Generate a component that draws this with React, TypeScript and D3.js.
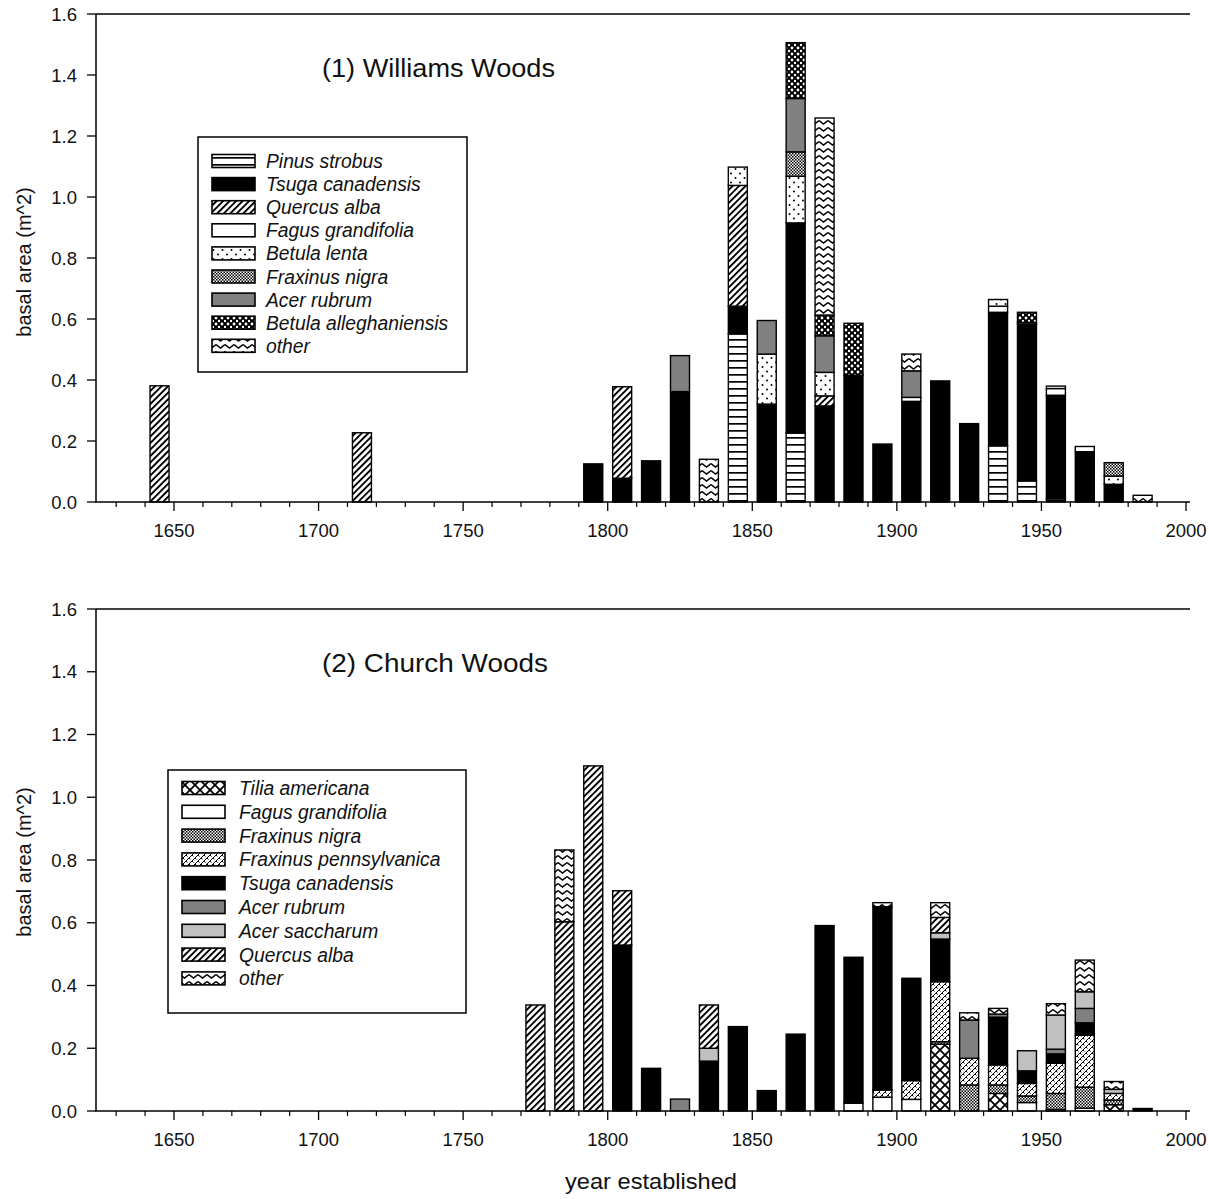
import React from "react";
import * as d3 from "d3";

// ---------- DATA ----------
const yearsWilliams = [1645, 1715, 1795, 1805, 1815, 1825, 1835, 1845, 1855, 1865, 1875, 1885, 1895, 1905, 1915, 1925, 1935, 1945, 1955, 1965, 1975, 1985];
const wPinus =      [0, 0, 0, 0, 0, 0, 0, 0.551, 0, 0.226, 0, 0, 0, 0, 0, 0, 0.184, 0.069, 0.01, 0, 0, 0];
const wTsuga =      [0, 0, 0.125, 0.078, 0.135, 0.362, 0, 0.091, 0.321, 0.689, 0.315, 0.416, 0.19, 0.33, 0.397, 0.257, 0.438, 0.515, 0.34, 0.165, 0.058, 0];
const wQuercus =    [0.381, 0.227, 0, 0.30, 0, 0, 0, 0.396, 0, 0, 0.033, 0, 0, 0, 0, 0, 0, 0, 0, 0, 0, 0];
const wFagus =      [0, 0, 0, 0, 0, 0, 0, 0, 0, 0, 0, 0, 0, 0.013, 0, 0, 0.02, 0.005, 0.022, 0.017, 0, 0];
const wBetLenta =   [0, 0, 0, 0, 0, 0, 0, 0.06, 0.164, 0.153, 0.077, 0, 0, 0, 0, 0, 0.022, 0, 0.008, 0, 0.027, 0];
const wFraxNigra =  [0, 0, 0, 0, 0, 0, 0, 0, 0, 0.08, 0, 0, 0, 0, 0, 0, 0, 0, 0, 0, 0.044, 0];
const wAcerRubrum = [0, 0, 0, 0, 0, 0.118, 0, 0, 0.11, 0.175, 0.12, 0, 0, 0.087, 0, 0, 0, 0, 0, 0, 0, 0];
const wBetAlleg =   [0, 0, 0, 0, 0, 0, 0, 0, 0, 0.183, 0.068, 0.17, 0, 0, 0, 0, 0, 0.033, 0, 0, 0, 0];
const wOther =      [0, 0, 0, 0, 0, 0, 0.14, 0, 0, 0, 0.646, 0, 0, 0.055, 0, 0, 0, 0, 0, 0, 0, 0.022];

const yearsChurch = [1775, 1785, 1795, 1805, 1815, 1825, 1835, 1845, 1855, 1865, 1875, 1885, 1895, 1905, 1915, 1925, 1935, 1945, 1955, 1965, 1975, 1985];
const cTilia =      [0, 0, 0, 0, 0, 0, 0, 0, 0, 0, 0, 0, 0, 0, 0.213, 0, 0.056, 0, 0, 0, 0.02, 0];
const cFagus =      [0, 0, 0, 0, 0, 0, 0, 0, 0, 0, 0, 0.025, 0.044, 0.037, 0, 0, 0, 0.027, 0.005, 0.009, 0, 0];
const cFraxNigra =  [0, 0, 0, 0, 0, 0, 0, 0, 0, 0, 0, 0, 0, 0, 0.008, 0.083, 0.027, 0.021, 0.051, 0.067, 0.015, 0];
const cFraxPenn =   [0, 0, 0, 0, 0, 0, 0, 0, 0, 0, 0, 0, 0.023, 0.06, 0.191, 0.085, 0.064, 0.04, 0.096, 0.166, 0.021, 0];
const cTsuga =      [0, 0, 0, 0.529, 0.136, 0, 0.159, 0.269, 0.065, 0.245, 0.591, 0.465, 0.584, 0.326, 0.136, 0, 0.152, 0.04, 0.03, 0.039, 0, 0.008];
const cAcerRubrum = [0, 0, 0, 0, 0, 0.038, 0, 0, 0, 0, 0, 0, 0, 0, 0, 0.122, 0.01, 0, 0.015, 0.046, 0, 0];
const cAcerSacch =  [0, 0, 0, 0, 0, 0, 0.041, 0, 0, 0, 0, 0, 0, 0, 0.02, 0, 0, 0.064, 0.109, 0.053, 0.013, 0];
const cQuercus =    [0.338, 0.603, 1.10, 0.173, 0, 0, 0.138, 0, 0, 0, 0, 0, 0, 0, 0.049, 0, 0, 0, 0, 0, 0, 0];
const cOther =      [0, 0.229, 0, 0, 0, 0, 0, 0, 0, 0, 0, 0, 0.013, 0, 0.047, 0.023, 0.018, 0, 0.036, 0.101, 0.025, 0];

const majorYears = [1650, 1700, 1750, 1800, 1850, 1900, 1950, 2000];
const minorYears = d3.range(1630, 2000, 10).filter((y) => y % 50 !== 0);
const yTicks = [0, 0.2, 0.4, 0.6, 0.8, 1.0, 1.2, 1.4, 1.6];

const williamsNames = ["Pinus strobus", "Tsuga canadensis", "Quercus alba", "Fagus grandifolia", "Betula lenta", "Fraxinus nigra", "Acer rubrum", "Betula alleghaniensis", "other"];
const churchNames = ["Tilia americana", "Fagus grandifolia", "Fraxinus nigra", "Fraxinus pennsylvanica", "Tsuga canadensis", "Acer rubrum", "Acer saccharum", "Quercus alba", "other"];

// ---------- STYLE ----------
const FONT = "Arial, 'Liberation Sans', sans-serif";
const fills: Record<string, string> = {
  "Pinus strobus": "url(#p-hline)",
  "Tsuga canadensis": "#000",
  "Quercus alba": "url(#p-diag)",
  "Fagus grandifolia": "#fff",
  "Betula lenta": "url(#p-dots)",
  "Fraxinus nigra": "url(#p-check)",
  "Acer rubrum": "#808080",
  "Betula alleghaniensis": "url(#p-alleg)",
  other: "url(#p-other)",
  "Tilia americana": "url(#p-tilia)",
  "Fraxinus pennsylvanica": "url(#p-penn)",
  "Acer saccharum": "#c0c0c0",
};

const x = d3.scaleLinear().domain([1650, 2000]).range([174, 1186]);
const AXIS_L = 96;
const AXIS_R = 1190;
const BAR_W = 19;

type PanelProps = {
  years: number[];
  names: string[];
  series: number[][];
  yBottom: number;
  yTop: number;
  title: string;
  titleLen: number;
  labelCenter: number;
  legend: { x: number; y: number; w: number; h: number; swX: number; txtX: number; rowY0: number; rowDy: number };
};

function Panel({ years, names, series, yBottom, yTop, title, titleLen, labelCenter, legend }: PanelProps) {
  const y = d3.scaleLinear().domain([0, 1.6]).range([yBottom, yTop]);
  const stackData = years.map((yr, i) => {
    const o: Record<string, number> = { year: yr };
    names.forEach((n, k) => (o[n] = series[k][i]));
    return o;
  });
  const stacked = d3.stack<Record<string, number>>().keys(names)(stackData);

  return (
    <g>
      {stacked.map((layer) => (
        <g key={layer.key}>
          {layer.map((d, i) => {
            const v = d[1] - d[0];
            if (v <= 0) return null;
            return (
              <rect
                key={i}
                x={x(years[i]) - BAR_W / 2}
                y={y(d[1])}
                width={BAR_W}
                height={y(d[0]) - y(d[1])}
                fill={fills[layer.key]}
                stroke="#000"
                strokeWidth={1.4}
              />
            );
          })}
        </g>
      ))}
      <line x1={AXIS_L} x2={AXIS_R} y1={yTop} y2={yTop} stroke="#000" strokeWidth={1.5} />
      <line x1={AXIS_L} x2={AXIS_L} y1={yTop} y2={yBottom} stroke="#000" strokeWidth={1.5} />
      <line x1={AXIS_L - 1} x2={AXIS_R} y1={yBottom} y2={yBottom} stroke="#000" strokeWidth={1.5} />
      {yTicks.map((t) => (
        <g key={t}>
          <line x1={AXIS_L - 9} x2={AXIS_L} y1={y(t)} y2={y(t)} stroke="#000" strokeWidth={1.3} />
          <text x={AXIS_L - 19} y={y(t) + 6.5} textAnchor="end" fontSize={18.5} fontFamily={FONT} fill="#111">
            {t.toFixed(1)}
          </text>
        </g>
      ))}
      {minorYears.map((yr) => (
        <line key={yr} x1={x(yr)} x2={x(yr)} y1={yBottom} y2={yBottom + 5} stroke="#000" strokeWidth={1.2} />
      ))}
      {majorYears.map((yr) => (
        <g key={yr}>
          <line x1={x(yr)} x2={x(yr)} y1={yBottom} y2={yBottom + 9} stroke="#000" strokeWidth={1.3} />
          <text x={x(yr)} y={yBottom + 35} textAnchor="middle" fontSize={18.5} fontFamily={FONT} fill="#111">
            {yr}
          </text>
        </g>
      ))}
      <text
        transform={`translate(31, ${labelCenter}) rotate(-90)`}
        textAnchor="middle"
        fontSize={20}
        fontFamily={FONT}
        fill="#111"
      >
        basal area (m^2)
      </text>
      <text
        x={322}
        y={yTop + 63}
        fontSize={25}
        fontFamily={FONT}
        fill="#111"
        textLength={titleLen}
        lengthAdjust="spacingAndGlyphs"
      >
        {title}
      </text>
      <rect x={legend.x} y={legend.y} width={legend.w} height={legend.h} fill="#fff" stroke="#000" strokeWidth={1.5} />
      {names.map((n, k) => {
        const cy = legend.rowY0 + k * legend.rowDy;
        return (
          <g key={n}>
            <rect x={legend.swX} y={cy - 6.5} width={43} height={13} fill={fills[n]} stroke="#000" strokeWidth={1.6} />
            <text x={legend.txtX} y={cy + 7} fontSize={19.3} fontStyle="italic" fontFamily={FONT} fill="#111">
              {n}
            </text>
          </g>
        );
      })}
    </g>
  );
}

export default function App() {
  return (
    <svg
      width={1209}
      height={1199}
      style={{ position: "absolute", left: 0, top: 0, background: "#fff" }}
      xmlns="http://www.w3.org/2000/svg"
    >
      <defs>
        <pattern id="p-hline" patternUnits="userSpaceOnUse" width={8} height={7}>
          <rect width={8} height={7} fill="#fff" />
          <rect y={3} width={8} height={1.7} fill="#000" />
        </pattern>
        <pattern id="p-diag" patternUnits="userSpaceOnUse" width={4.6} height={4.6} patternTransform="rotate(45)">
          <rect width={4.6} height={4.6} fill="#fff" />
          <rect width={1.9} height={4.6} fill="#000" />
        </pattern>
        <pattern id="p-dots" patternUnits="userSpaceOnUse" width={9} height={9}>
          <rect width={9} height={9} fill="#fff" />
          <circle cx={2} cy={2.5} r={1} fill="#000" />
          <circle cx={6.5} cy={7} r={1} fill="#000" />
        </pattern>
        <pattern id="p-check" patternUnits="userSpaceOnUse" width={3} height={3}>
          <rect width={3} height={3} fill="#fff" />
          <rect width={1.5} height={1.5} fill="#000" />
          <rect x={1.5} y={1.5} width={1.5} height={1.5} fill="#000" />
        </pattern>
        <pattern id="p-alleg" patternUnits="userSpaceOnUse" width={6} height={6}>
          <rect width={6} height={6} fill="#000" />
          <circle cx={0} cy={0} r={1.4} fill="#fff" />
          <circle cx={6} cy={0} r={1.4} fill="#fff" />
          <circle cx={0} cy={6} r={1.4} fill="#fff" />
          <circle cx={6} cy={6} r={1.4} fill="#fff" />
          <circle cx={3} cy={3} r={1.2} fill="#fff" />
        </pattern>
        <pattern id="p-other" patternUnits="userSpaceOnUse" width={9} height={7}>
          <rect width={9} height={7} fill="#fff" />
          <path d="M0,1.5 L4.5,5 L9,1.5" fill="none" stroke="#000" strokeWidth={1.5} />
        </pattern>
        <pattern id="p-tilia" patternUnits="userSpaceOnUse" width={10} height={10}>
          <rect width={10} height={10} fill="#fff" />
          <path d="M0,0 L10,10 M10,0 L0,10" fill="none" stroke="#000" strokeWidth={1.8} />
        </pattern>
        <pattern id="p-penn" patternUnits="userSpaceOnUse" width={6} height={6}>
          <rect width={6} height={6} fill="#fff" />
          <path d="M0,3 L3,0 M3,6 L6,3 M3,0 L4.5,1.5 M0,3 L1.5,4.5" fill="none" stroke="#000" strokeWidth={1} />
        </pattern>
      </defs>

      <Panel
        years={yearsWilliams}
        names={williamsNames}
        series={[wPinus, wTsuga, wQuercus, wFagus, wBetLenta, wFraxNigra, wAcerRubrum, wBetAlleg, wOther]}
        yBottom={502}
        yTop={14}
        title="(1) Williams Woods"
        titleLen={233}
        labelCenter={262}
        legend={{ x: 198, y: 137, w: 269, h: 235, swX: 212, txtX: 266, rowY0: 161, rowDy: 23.1 }}
      />
      <Panel
        years={yearsChurch}
        names={churchNames}
        series={[cTilia, cFagus, cFraxNigra, cFraxPenn, cTsuga, cAcerRubrum, cAcerSacch, cQuercus, cOther]}
        yBottom={1111}
        yTop={609}
        title="(2) Church Woods"
        titleLen={226}
        labelCenter={862}
        legend={{ x: 168, y: 770, w: 298, h: 243, swX: 182, txtX: 239, rowY0: 788, rowDy: 23.8 }}
      />
      <text
        x={651}
        y={1189}
        textAnchor="middle"
        fontSize={22}
        fontFamily={FONT}
        fill="#111"
        textLength={172}
        lengthAdjust="spacingAndGlyphs"
      >
        year established
      </text>
    </svg>
  );
}
